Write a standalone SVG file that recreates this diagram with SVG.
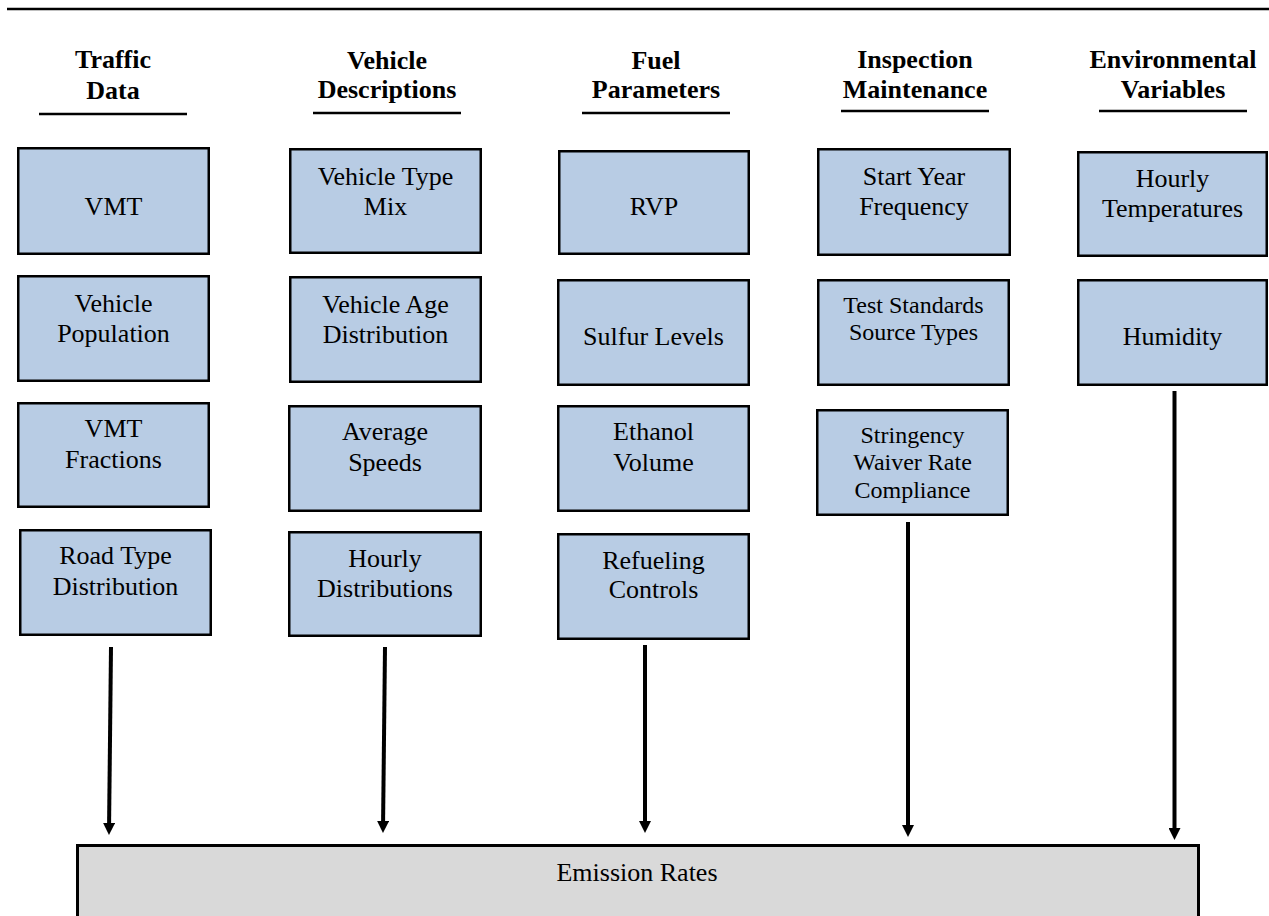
<svg xmlns="http://www.w3.org/2000/svg" width="1269" height="916" viewBox="0 0 1269 916">
<defs>
<style>
.hd{font-family:"Liberation Serif","Times New Roman",Times,Tinos,"Noto Serif","DejaVu Serif",serif;font-weight:bold;font-size:26px;fill:#000;text-anchor:middle}
.ul{stroke:#000;stroke-width:2.5}
.bx{fill:#B8CCE4;stroke:#000;stroke-width:2.5}
.tx{font-family:"Liberation Serif","Times New Roman",Times,Tinos,"Noto Serif","DejaVu Serif",serif;font-size:26px;fill:#000;text-anchor:middle}
.ts{font-family:"Liberation Serif","Times New Roman",Times,Tinos,"Noto Serif","DejaVu Serif",serif;font-size:24px;fill:#000;text-anchor:middle}
.ar{stroke:#000;stroke-width:4;fill:none;marker-end:url(#ah)}
</style>
<marker id="ah" viewBox="0 0 12 12" refX="0" refY="6" markerWidth="12" markerHeight="12" markerUnits="userSpaceOnUse" orient="auto">
<path d="M0,0 L12,6 L0,12 Z" fill="#000"/>
</marker>
</defs>
<rect x="0" y="0" width="1269" height="916" fill="#fff"/>
<line x1="7" y1="9" x2="1269" y2="9" stroke="#000" stroke-width="2.5"/>

<g id="headers">
<text class="hd" x="113" y="68">Traffic</text>
<text class="hd" x="113" y="99">Data</text>
<line class="ul" x1="39" y1="114" x2="187" y2="114"/>
<text class="hd" x="387" y="69">Vehicle</text>
<text class="hd" x="387" y="98">Descriptions</text>
<line class="ul" x1="313" y1="113" x2="461" y2="113"/>
<text class="hd" x="656" y="69">Fuel</text>
<text class="hd" x="656" y="98">Parameters</text>
<line class="ul" x1="582" y1="113" x2="730" y2="113"/>
<text class="hd" x="915" y="68">Inspection</text>
<text class="hd" x="915" y="98">Maintenance</text>
<line class="ul" x1="841" y1="111" x2="989" y2="111"/>
<text class="hd" x="1173" y="68">Environmental</text>
<text class="hd" x="1173" y="98">Variables</text>
<line class="ul" x1="1099" y1="111" x2="1247" y2="111"/>
</g>

<g id="vmt"><rect class="bx" x="18.25" y="148.25" width="190.5" height="105.5"/><text class="tx" x="113.5" y="215">VMT</text></g>
<g id="vehicle-population"><rect class="bx" x="18.25" y="276.25" width="190.5" height="104.5"/><text class="tx" x="113.5" y="312">Vehicle</text><text class="tx" x="113.5" y="342">Population</text></g>
<g id="vmt-fractions"><rect class="bx" x="18.25" y="403.25" width="190.5" height="103.5"/><text class="tx" x="113.5" y="437">VMT</text><text class="tx" x="113.5" y="468">Fractions</text></g>
<g id="road-type"><rect class="bx" x="20.25" y="530.25" width="190.5" height="104.5"/><text class="tx" x="115.5" y="564">Road Type</text><text class="tx" x="115.5" y="595">Distribution</text></g>

<g id="vehicle-type-mix"><rect class="bx" x="290.25" y="149.25" width="190.5" height="103.5"/><text class="tx" x="385.5" y="185">Vehicle Type</text><text class="tx" x="385.5" y="215">Mix</text></g>
<g id="vehicle-age"><rect class="bx" x="290.25" y="277.25" width="190.5" height="104.5"/><text class="tx" x="385.5" y="313">Vehicle Age</text><text class="tx" x="385.5" y="343">Distribution</text></g>
<g id="average-speeds"><rect class="bx" x="289.25" y="406.25" width="191.5" height="104.5"/><text class="tx" x="385" y="440">Average</text><text class="tx" x="385" y="471">Speeds</text></g>
<g id="hourly-distributions"><rect class="bx" x="289.25" y="532.25" width="191.5" height="103.5"/><text class="tx" x="385" y="567">Hourly</text><text class="tx" x="385" y="597">Distributions</text></g>

<g id="rvp"><rect class="bx" x="559.25" y="151.25" width="189.5" height="102.5"/><text class="tx" x="654" y="215">RVP</text></g>
<g id="sulfur-levels"><rect class="bx" x="558.25" y="280.25" width="190.5" height="104.5"/><text class="tx" x="653.5" y="345">Sulfur Levels</text></g>
<g id="ethanol-volume"><rect class="bx" x="558.25" y="406.25" width="190.5" height="104.5"/><text class="tx" x="653.5" y="440">Ethanol</text><text class="tx" x="653.5" y="471">Volume</text></g>
<g id="refueling-controls"><rect class="bx" x="558.25" y="534.25" width="190.5" height="104.5"/><text class="tx" x="653.5" y="569">Refueling</text><text class="tx" x="653.5" y="598">Controls</text></g>

<g id="start-year"><rect class="bx" x="818.25" y="149.25" width="191.5" height="105.5"/><text class="tx" x="914" y="185">Start Year</text><text class="tx" x="914" y="215">Frequency</text></g>
<g id="test-standards"><rect class="bx" x="818.25" y="280.25" width="190.5" height="104.5"/><text class="ts" x="913.5" y="313">Test Standards</text><text class="ts" x="913.5" y="340">Source Types</text></g>
<g id="stringency"><rect class="bx" x="817.25" y="410.25" width="190.5" height="104.5"/><text class="ts" x="912.5" y="443">Stringency</text><text class="ts" x="912.5" y="470">Waiver Rate</text><text class="ts" x="912.5" y="498">Compliance</text></g>

<g id="hourly-temperatures"><rect class="bx" x="1078.25" y="152.25" width="188.5" height="103.5"/><text class="tx" x="1172.5" y="187">Hourly</text><text class="tx" x="1172.5" y="217">Temperatures</text></g>
<g id="humidity"><rect class="bx" x="1078.25" y="280.25" width="188.5" height="104.5"/><text class="tx" x="1172.5" y="345">Humidity</text></g>

<g id="emission-rates"><rect x="77.5" y="845.5" width="1121" height="100" fill="#D9D9D9" stroke="#000" stroke-width="3"/><text class="tx" x="637" y="881">Emission Rates</text></g>

<g id="connectors">
<line class="ar" x1="111" y1="647" x2="109.1" y2="823"/>
<line class="ar" x1="385" y1="647" x2="383.1" y2="821"/>
<line class="ar" x1="645" y1="645" x2="645" y2="821"/>
<line class="ar" x1="908" y1="522" x2="908" y2="825"/>
<line class="ar" x1="1174.5" y1="391" x2="1174.5" y2="828"/>
</g>
</svg>
